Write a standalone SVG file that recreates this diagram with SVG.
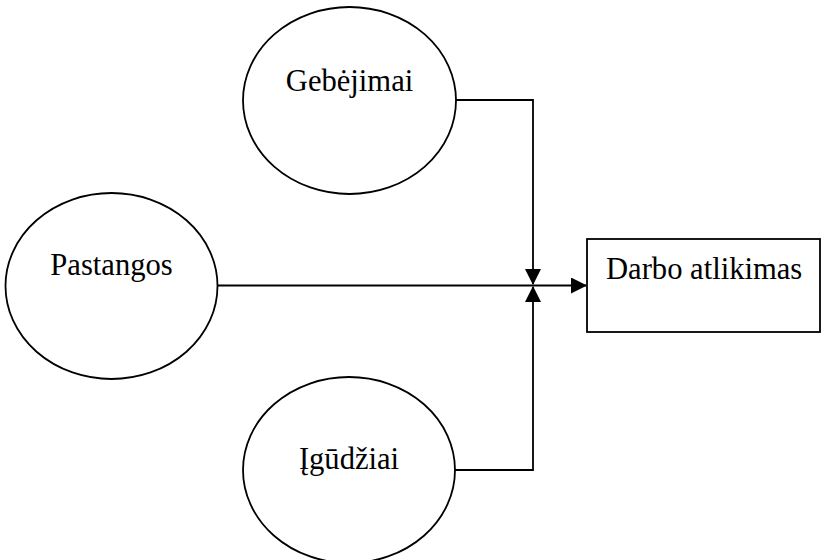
<svg xmlns="http://www.w3.org/2000/svg" width="821" height="560" viewBox="0 0 821 560">
  <style>
    .node { fill: #fff; stroke: #000; stroke-width: 1.8; }
    .label { font-family: "Liberation Serif", "Times New Roman", serif; font-size: 30.6px; fill: #000; }
    .wire { fill: none; stroke: #000; stroke-width: 1.8; }
  </style>
  <defs>
    <marker id="head" viewBox="0 0 16 16" refX="15" refY="8" markerWidth="16" markerHeight="16" markerUnits="userSpaceOnUse" orient="auto">
      <path d="M0,0 L16,8 L0,16 Z" fill="#000"/>
    </marker>
  </defs>
  <rect width="821" height="560" fill="#fff"/>

  <g id="gebejimai">
    <ellipse class="node" cx="349.5" cy="100.5" rx="106.5" ry="93.5"/>
    <text class="label" x="349.5" y="90.5" text-anchor="middle">Gebėjimai</text>
  </g>

  <g id="pastangos">
    <ellipse class="node" cx="111.5" cy="286" rx="106" ry="93"/>
    <text class="label" x="111.5" y="275" text-anchor="middle">Pastangos</text>
  </g>

  <g id="igudziai">
    <ellipse class="node" cx="349" cy="470" rx="106" ry="93"/>
    <text class="label" x="349" y="469" text-anchor="middle">Įgūdžiai</text>
  </g>

  <g id="darbo-atlikimas">
    <rect class="node" x="587" y="239" width="233" height="93"/>
    <text class="label" x="606" y="279">Darbo atlikimas</text>
  </g>

  <g id="connectors">
    <polyline class="wire" points="456,100 533,100 533,284" marker-end="url(#head)"/>
    <polyline class="wire" points="455,470 533,470 533,287" marker-end="url(#head)"/>
    <line class="wire" x1="217" y1="285.5" x2="586" y2="285.5" marker-end="url(#head)"/>
  </g>
</svg>
